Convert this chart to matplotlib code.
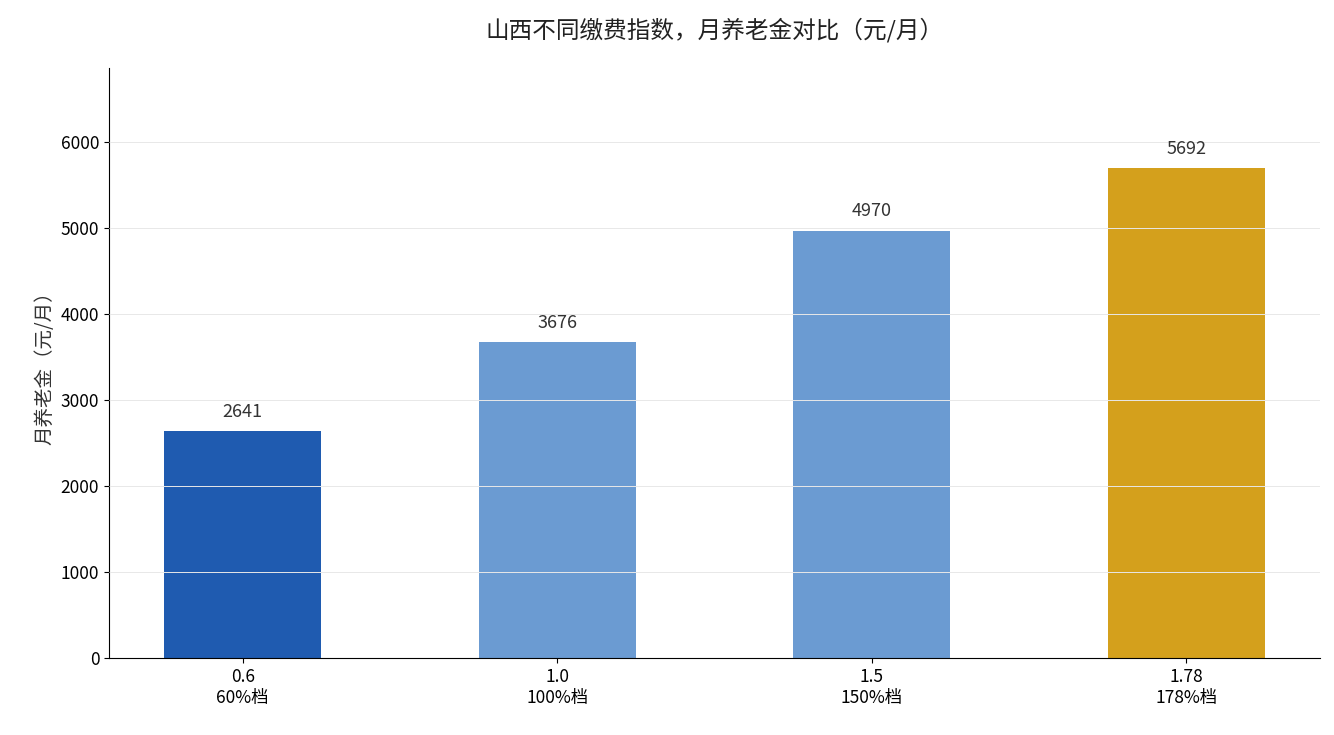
import matplotlib
matplotlib.use("Agg")
import matplotlib.pyplot as plt

plt.rcParams['font.family'] = ['Noto Sans CJK SC', 'DejaVu Sans']

indices = ["0.6", "1.0", "1.5", "1.78"]
tiers = ["60%档", "100%档", "150%档", "178%档"]
values = [2641, 3676, 4970, 5692]
colors = ["#1f5bb0", "#6b9bd2", "#6b9bd2", "#d4a01c"]

fig = plt.figure(figsize=(13.34, 7.35), dpi=100)
ax = fig.add_axes([109/1334, 1-658/735, (1320-109)/1334, (658-68)/735])
x = range(len(values))
bars = ax.bar(x, values, width=0.5, color=colors, zorder=2)
for i, v in zip(x, values):
    ax.text(i, v + 120, str(v), ha='center', va='bottom', fontsize=13, color='#333333')
ax.set_xticks(list(x))
ax.set_xticklabels([f"{a}\n{b}" for a, b in zip(indices, tiers)], fontsize=12.5)
ax.tick_params(axis='y', labelsize=12.5)
ax.set_xlim(-0.425, 3.425)
ax.set_ylim(0, 6860)
ax.set_yticks(range(0, 7000, 1000))
ax.yaxis.grid(True, color='#e8e8e8', linewidth=0.7, zorder=3)
ax.set_axisbelow(False)
for s in ['top', 'right']:
    ax.spines[s].set_visible(False)
ax.set_ylabel("月养老金（元/月）", fontsize=14, color='#333333')
ax.set_title("山西不同缴费指数，月养老金对比（元/月）", fontsize=17, pad=22, color='#222222')
fig.savefig("out.png", dpi=100)
